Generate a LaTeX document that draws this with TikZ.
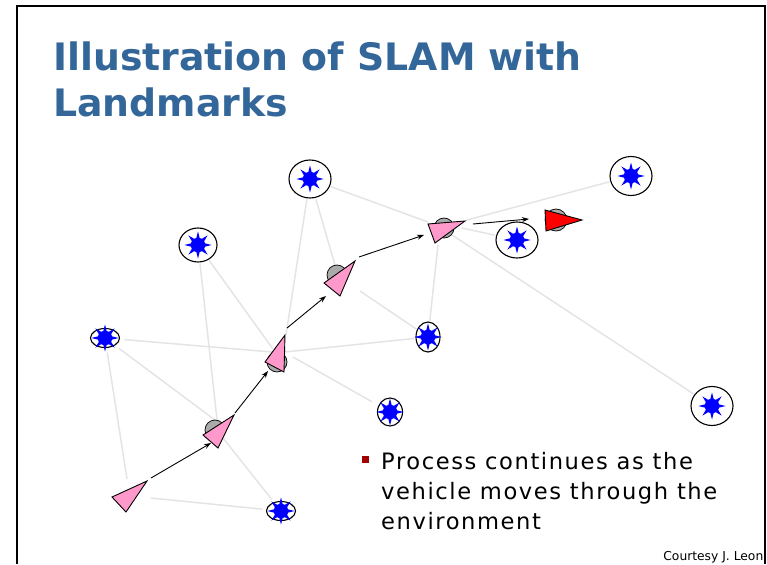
\documentclass[tikz,border=0pt]{standalone}
\usepackage{fontspec}
\setmainfont{DejaVu Sans}
\newfontfamily\bodyfont{DejaVu Sans}[LetterSpace=7]
\usetikzlibrary{shapes.geometric,arrows.meta,calc}

\definecolor{titleblue}{RGB}{51,102,153}
\definecolor{posepink}{RGB}{255,153,204}
\definecolor{bulletred}{RGB}{160,0,0}
\definecolor{obsgrey}{RGB}{228,228,228}
\definecolor{bodygrey}{RGB}{170,170,170}
\definecolor{starblue}{RGB}{0,0,255}

\tikzset{
  lmk/.style={ellipse, draw=black, line width=1.1pt, fill=white, inner sep=0pt, outer sep=1.5pt},
  lmkstar/.style={star, star points=8, star point ratio=2.4, minimum size=27pt, inner sep=0pt, fill=starblue},
  lmkcore/.style={circle, minimum size=14.5pt, inner sep=0pt, fill=starblue},
  obs/.style={draw=obsgrey, line width=1.5pt},
  robot/.style={circle, draw=black, line width=0.7pt, fill=bodygrey, inner sep=0pt},
  tri/.style={draw=black, line width=0.9pt, line join=miter},
  mv/.style={draw=black, line width=0.9pt, -{Stealth[length=7pt,width=5pt]}},
}

\begin{document}
\begin{tikzpicture}[x=1pt,y=-1pt]
\useasboundingbox (0,0) rectangle (767,564);

% slide frame
\draw[line width=2pt] (17,564) -- (17,5.7) -- (764.5,5.7) -- (764.5,564);

% title
\node[anchor=north west, inner sep=0pt, align=left, text=titleblue,
      font=\bfseries\fontsize{37.8}{46.7}\selectfont] (title) at (53,41.3)
      {Illustration of SLAM with\\Landmarks};

% landmarks: ellipse with an eight-pointed star
\foreach \n/\x/\y/\w/\h/\o in {
  1/310/179/42/38/1.5, 2/198/245/38/34/1.5, 3/105/338/29/19/5,
  4/428/337/24/30/1,   5/390/412/25/28/8,   6/281/511/29/19/4,
  7/517/240/42/36/1.5, 8/631/176/42/39/1.5, 9/712/406/42/39/1.5}{
  \node[lmk, minimum width=\w pt, minimum height=\h pt, outer sep=\o pt] (L\n) at (\x,\y) {};
  \node[lmkstar] (S\n) at (L\n) {};
  \node[lmkcore] (C\n) at (L\n) {};
}

% vehicle poses
\coordinate (P1) at (128,497);
\coordinate (P2) at (218,433);
\coordinate (P3) at (278,356);
\coordinate (P4) at (340,280);
\coordinate (P5) at (443,229);
\coordinate (P6) at (558,220);

% observations of landmarks
\draw[obs] (L3) -- ($(P1)+(-1,-18)$);
\draw[obs] (L6) -- ($(P1)+(23,1)$);
\draw[obs] (L3) -- ($(P2)+(-3,-13)$);
\draw[obs] (L2) -- ($(P2)+(-1,-13)$);
\draw[obs] (L6) -- ($(P2)+(5,5)$);
\draw[obs] (L3) -- ($(P3)+(-6,-4)$);
\draw[obs] (L2) -- ($(P3)+(-5,-7)$);
\draw[obs] (L1) -- ($(P3)+(8,-21)$);
\draw[obs] (L4) -- ($(P3)+(7,-4)$);
\draw[obs] (L5) -- ($(P3)+(15,1)$);
\draw[obs] (L1) -- ($(P4)+(-5,-15)$);
\draw[obs] (L4) -- ($(P4)+(20,11)$);
\draw[obs] (L1) -- ($(P5)+(-15,-7)$);
\draw[obs] (L4) -- ($(P5)+(-5,16)$);
\draw[obs] (L7) -- ($(P5)+(19,-1)$);
\draw[obs] (L8) -- ($(P5)+(24,-9)$);
\draw[obs] (L9) -- ($(P5)+(9,6)$);

% robot bodies
\node[robot, minimum size=20pt] (B2) at (215,430) {};
\node[robot, minimum size=20pt] (B3) at (277,362) {};
\node[robot, minimum size=20pt] (B4) at (337,275) {};
\node[robot, minimum size=20pt] (B5) at (444,228) {};
\node[robot, minimum size=22pt] (B6) at (556,220) {};

% heading triangles
\draw[tri, fill=posepink] (112,497) -- (147,481) -- (126,512) -- cycle;
\draw[tri, fill=posepink] (203,435) -- (234,415) -- (218,448) -- cycle;
\draw[tri, fill=posepink] (265,362) -- (285,335) -- (284,372) -- cycle;
\draw[tri, fill=posepink] (324,283) -- (355,261) -- (340,296) -- cycle;
\draw[tri, fill=posepink] (428,224) -- (465,221) -- (435,243) -- cycle;
\draw[tri, fill=red]      (545,210) -- (582,220) -- (546,231) -- cycle;

% motion between poses
\draw[mv] ($(P1)+(23,-19)$) -- ($(P2)+(-7,10)$);
\draw[mv] ($(P2)+(17,-20)$) -- ($(P3)+(-10,15)$);
\draw[mv] ($(P3)+(9,-28)$)  -- ($(P4)+(-14,16)$);
\draw[mv] ($(P4)+(19,-23)$) -- ($(P5)+(-19,6)$);
\draw[mv] ($(P5)+(30,-5)$)  -- ($(P6)+(-29,-1)$);

% bullet text
\node[fill=bulletred, minimum size=6.5pt, inner sep=0pt] (bul) at (365.5,459.5) {};
\node[anchor=north west, inner sep=0pt, align=left,
      font=\bodyfont\fontsize{22.6}{30}\selectfont] (txt) at (381,452.2)
      {Process continues as the\\vehicle moves through the\\environment};

% credit
\node[anchor=base east, inner sep=0pt, font=\fontsize{12.3}{14}\selectfont] (credit)
      at (763.5,560.5) {Courtesy J. Leon};
\end{tikzpicture}
\end{document}
